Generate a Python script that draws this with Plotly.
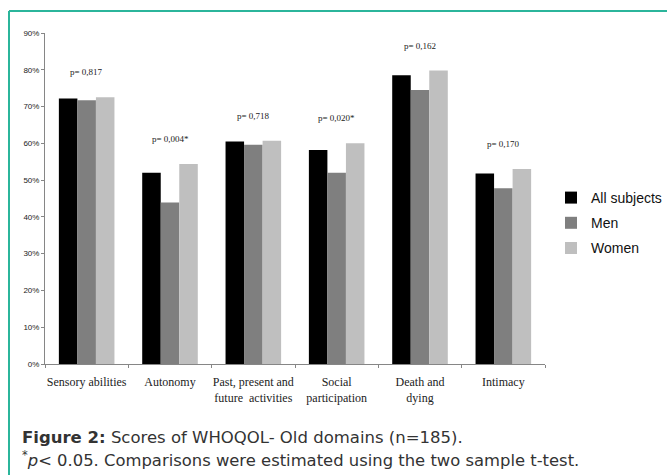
import plotly.graph_objects as go

categories = ["Sensory abilities", "Autonomy", "Past, present and<br>future  activities",
              "Social<br>participation", "Death and<br>dying", "Intimacy"]
all_subjects = [72.2, 52.0, 60.5, 58.2, 78.5, 51.8]
men = [71.7, 43.9, 59.6, 52.0, 74.5, 47.8]
women = [72.5, 54.4, 60.7, 60.0, 79.8, 53.0]
p_labels = ["p= 0,817", "p= 0,004*", "p= 0,718", "p= 0,020*", "p= 0,162", "p= 0,170"]
y_ticks = [0, 10, 20, 30, 40, 50, 60, 70, 80, 90]
y_tick_text = ["0%", "10%", "20%", "30%", "40%", "50%", "60%", "70%", "80%", "90%"]

fig = go.Figure()
for name, vals, col in [("All subjects", all_subjects, "#000000"),
                        ("Men", men, "#7f7f7f"),
                        ("Women", women, "#bfbfbf")]:
    fig.add_trace(go.Bar(name=name, x=categories, y=vals, legendgroup=name,
                         marker=dict(color=col, line=dict(width=0))))

annotations = []
for cat, lab, a, m, w in zip(categories, p_labels, all_subjects, men, women):
    annotations.append(dict(x=cat, y=max(a, m, w) + 6.8, xref="x", yref="y",
                            text=lab, showarrow=False,
                            font=dict(family="Liberation Serif", size=9, color="#222")))

# page pixel -> paper coords (plot area: x 45..545, y 33..364 on the page)


def px(x):
    return (x - 45) / 500.0


def py(y):
    return (364 - y) / 331.0


annotations.append(dict(x=px(20), y=py(437), xref="paper", yref="paper",
                        xanchor="left", yanchor="middle", showarrow=False,
                        text="<b>Figure 2:</b> Scores of WHOQOL- Old domains (n=185).",
                        font=dict(family="DejaVu Sans", size=16.5, color="#333")))
annotations.append(dict(x=px(20), y=py(459), xref="paper", yref="paper",
                        xanchor="left", yanchor="middle", showarrow=False,
                        text="<sup>*</sup><i>p</i>< 0.05. Comparisons were estimated using the two sample t-test.",
                        font=dict(family="DejaVu Sans", size=16.4, color="#333")))

shapes = [
    dict(type="line", xref="paper", yref="paper", x0=px(9), x1=px(667), y0=py(11), y1=py(11),
         line=dict(color="#2bb59b", width=2)),
    dict(type="line", xref="paper", yref="paper", x0=px(9), x1=px(9), y0=py(11), y1=py(475),
         line=dict(color="#2bb59b", width=2)),
]

fig.update_layout(
    width=667, height=475,
    margin=dict(l=45, r=122, t=33, b=111, autoexpand=False),
    paper_bgcolor="white", plot_bgcolor="white",
    barmode="group", bargap=0.333, bargroupgap=0,
    showlegend=True,
    legend=dict(x=1.012, y=0.426, xanchor="left", yanchor="middle",
                font=dict(family="Liberation Sans", size=14, color="#111"),
                itemwidth=30, tracegroupgap=4, bgcolor="rgba(0,0,0,0)"),
    annotations=annotations,
    shapes=shapes,
    xaxis=dict(showline=True, linecolor="#868686", linewidth=1,
               ticks="outside", tickson="boundaries", ticklen=3, tickcolor="#868686",
               tickangle=0, automargin=False,
               tickfont=dict(family="Liberation Serif", size=12, color="#222"),
               ticklabelstandoff=7, showgrid=False, zeroline=False),
    yaxis=dict(range=[0, 90], tickvals=y_ticks, ticktext=y_tick_text, automargin=False,
               showline=True, linecolor="#868686", linewidth=1,
               ticks="outside", ticklen=3, tickcolor="#868686",
               tickfont=dict(family="Liberation Sans", size=8, color="#222"),
               showgrid=False, zeroline=False),
)

fig.write_html("out.html", config={"displayModeBar": False},
               post_script="document.body.style.margin='0px';")
